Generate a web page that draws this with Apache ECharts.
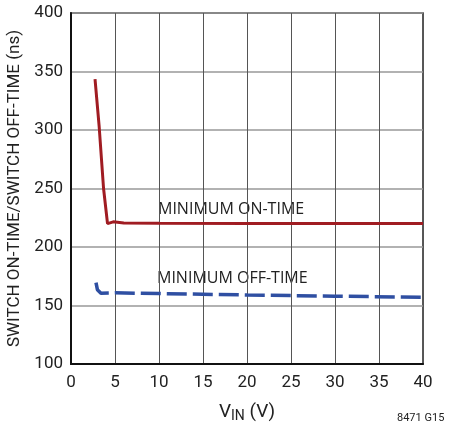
<!DOCTYPE html>
<html>
<head>
<meta charset="utf-8">
<script src="https://cdn.jsdelivr.net/npm/echarts@6/dist/echarts.min.js"></script>
<style>
html,body{margin:0;padding:0;background:#fff;}
#c{width:456px;height:425px;}
</style>
</head>
<body>
<div id="c"></div>
<script>
// ---- data ----
var onTimeX = [2.73, 3.2, 3.7, 4.15, 4.8, 6, 10, 20, 30, 40];
var onTimeY = [343.5, 303, 250, 220, 221.5, 220.5, 220.2, 220, 220, 220];
var offTimeX = [2.84, 3.0, 3.4, 5, 10, 20, 30, 40];
var offTimeY = [169.5, 163.5, 160.5, 160.8, 160.2, 159, 158, 157];
var xTicks = [0, 5, 10, 15, 20, 25, 30, 35, 40];
var yTicks = [100, 150, 200, 250, 300, 350, 400];
var onLabel = 'MINIMUM ON-TIME';
var offLabel = 'MINIMUM OFF-TIME';
var yName = 'SWITCH ON-TIME/SWITCH OFF-TIME (ns)';
var noteText = '8471 G15';

function pairs(xs, ys){ return xs.map(function(x,i){ return [x, ys[i]]; }); }

var narrow = 'Roboto,sans-serif';
var chart = echarts.init(document.getElementById('c'));
var option = {
  animation: false,
  grid: { left: 71, right: 33, top: 13, bottom: 61, show: true, borderColor: '#222', borderWidth: 1.5,
          containLabel: false, outerBoundsMode: 'none' },
  xAxis: {
    type: 'value', min: xTicks[0], max: xTicks[xTicks.length-1], interval: 5,
    name: '{v|V}{s|IN}{v| (V)}', nameLocation: 'middle', nameGap: 37,
    nameTextStyle: { rich: {
      v: { fontFamily: narrow, fontSize: 19, color: '#222' },
      s: { fontFamily: narrow, fontSize: 14, color: '#222', verticalAlign: 'bottom', padding: [8,0,0,0] }
    }},
    axisLine: { lineStyle: { color: '#111', width: 2 } },
    axisTick: { show: false },
    axisLabel: { fontFamily: narrow, fontSize: 17, color: '#222', margin: 10 },
    splitLine: { lineStyle: { color: '#555', width: 1 } }
  },
  yAxis: {
    type: 'value', min: yTicks[0], max: yTicks[yTicks.length-1], interval: 50,
    name: yName, nameLocation: 'middle', nameGap: 46,
    nameTextStyle: { fontFamily: narrow, fontSize: 17, color: '#222' },
    axisLine: { lineStyle: { color: '#111', width: 2 } },
    axisTick: { show: false },
    axisLabel: { fontFamily: narrow, fontSize: 17, color: '#222', margin: 8 },
    splitLine: { lineStyle: { color: '#999', width: 1.5 } }
  },
  series: [
    { type: 'line', data: pairs(onTimeX, onTimeY), symbol: 'none', z: 5,
      lineStyle: { color: '#a01c22', width: 3 } },
    { type: 'line', data: pairs(offTimeX, offTimeY), symbol: 'none', z: 5,
      lineStyle: { color: '#2f4fa2', width: 3.5, type: [20, 6] } }
  ],
  graphic: [
    { type: 'text', left: 158, top: 201, style: { text: onLabel, fontFamily: '"Open Sans",sans-serif', fontSize: 16, fill: '#222' } },
    { type: 'text', left: 157, top: 270, style: { text: offLabel, fontFamily: '"Open Sans",sans-serif', fontSize: 16, fill: '#222' } },
    { type: 'text', left: 397, top: 413, style: { text: noteText, fontFamily: narrow, fontSize: 11, fill: '#222' } }
  ]
};
chart.setOption(option);
</script>
</body>
</html>
